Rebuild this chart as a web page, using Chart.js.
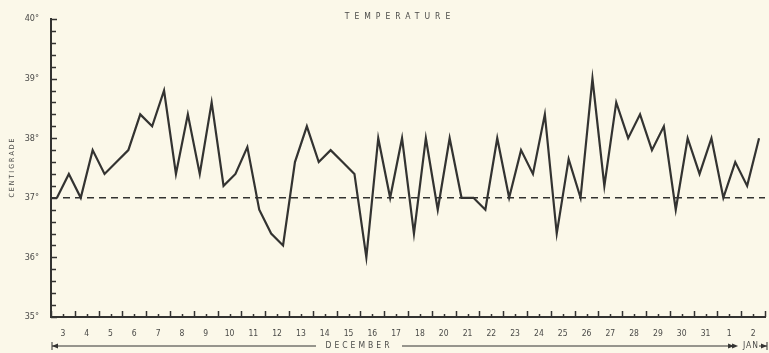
<!DOCTYPE html>
<html>
<head>
<meta charset="utf-8">
<script src="https://cdn.jsdelivr.net/npm/chart.js@4"></script>
<style>
    html, body { margin: 0; padding: 0; background: #fbf8e9; }
    #wrap { width: 769px; height: 353px; position: relative; }
</style>
</head>
<body>
<div id="wrap"><canvas id="tempChart"></canvas></div>
<script>
// day labels along the bottom (the original sheet skips 19)
const dayLabels = ['3', '4', '5', '6', '7', '8', '9', '10', '11', '12', '13', '14', '15', '16', '17', '18',
    '20', '21', '22', '23', '24', '25', '26', '27', '28', '29', '30', '31', '1', '2'];

// two readings per day, morning then evening (deg C)
const readings = [
    37.0, 37.4, 37.0, 37.8, 37.4, 37.6, 37.8, 38.4, 38.2, 38.8,
    37.4, 38.4, 37.4, 38.6, 37.2, 37.4, 37.85, 36.8, 36.4, 36.2,
    37.6, 38.2, 37.6, 37.8, 37.6, 37.4, 36.0, 38.0, 37.0, 38.0,
    36.4, 38.0, 36.8, 38.0, 37.0, 37.0, 36.8, 38.0, 37.0, 37.8,
    37.4, 38.4, 36.4, 37.65, 37.0, 39.0, 37.2, 38.6, 38.0, 38.4,
    37.8, 38.2, 36.8, 38.0, 37.4, 38.0, 37.0, 37.6, 37.2, 38.0
];

const normalTemp = 37;
const yMin = 35;
const yMax = 40;
const decemberEnd = 28.2; // end of the DECEMBER bracket on the day axis

const ink = '#333331';
const labelInk = '#4a4a48';
const fontFamily = '"DejaVu Sans Condensed", "Liberation Sans Narrow", "DejaVu Sans", sans-serif';

const points = readings.map((v, i) => ({ x: Math.floor(i / 2) + (i % 2 ? 0.25 : -0.25), y: v }));

// ticks pointing into the plot, dashed normal line and extra lettering
const chartDecor = {
    id: 'chartDecor',
    beforeDatasetsDraw(chart) {
        const { ctx, chartArea, scales: { y } } = chart;
        const py = y.getPixelForValue(normalTemp);
        ctx.save();
        ctx.strokeStyle = ink;
        ctx.lineWidth = 1.5;
        ctx.setLineDash([7, 5]);
        ctx.beginPath();
        ctx.moveTo(chartArea.left, py);
        ctx.lineTo(chartArea.right, py);
        ctx.stroke();
        ctx.restore();
    },
    afterDraw(chart) {
        const { ctx, chartArea, scales: { x, y } } = chart;
        ctx.save();
        ctx.strokeStyle = ink;
        ctx.lineWidth = 1.5;

        // y minor ticks every 0.2 deg
        for (let i = 0; i <= 25; i++) {
            const py = Math.round(y.getPixelForValue(yMin + i * 0.2)) + 0.5;
            const len = i % 5 === 0 ? 6 : 5;
            ctx.beginPath();
            ctx.moveTo(chartArea.left, py);
            ctx.lineTo(chartArea.left + len, py);
            ctx.stroke();
        }

        // x ticks every half day, long ones at day boundaries
        for (let i = 0; i <= 60; i++) {
            const v = -0.5 + i * 0.5;
            const px = Math.round(x.getPixelForValue(v)) + 0.5;
            const len = i % 2 === 0 ? 6 : 3;
            ctx.beginPath();
            ctx.moveTo(px, chartArea.bottom);
            ctx.lineTo(px, chartArea.bottom - len);
            ctx.stroke();
        }

        // title
        ctx.fillStyle = labelInk;
        ctx.font = '8.5px ' + fontFamily;
        ctx.letterSpacing = '5px';
        ctx.textAlign = 'center';
        ctx.textBaseline = 'middle';
        ctx.fillText('TEMPERATURE', 400, 17);

        // DECEMBER / JAN bracket under the axis
        const by = 346;
        const x0 = x.getPixelForValue(-0.5) + 1;
        const x1 = x.getPixelForValue(decemberEnd);
        const x2 = chart.width - 2;
        ctx.letterSpacing = '3px';
        ctx.fillText('DECEMBER', 359, by);
        ctx.letterSpacing = '1px';
        ctx.fillText('JAN', 751, by);
        ctx.lineWidth = 1;
        ctx.beginPath();
        ctx.moveTo(x0, by); ctx.lineTo(316, by);
        ctx.moveTo(402, by); ctx.lineTo(x1, by);
        ctx.moveTo(x0, by - 4); ctx.lineTo(x0, by + 4);
        ctx.moveTo(x2, by - 4); ctx.lineTo(x2, by + 4);
        ctx.moveTo(x2 - 8, by); ctx.lineTo(x2, by);
        ctx.stroke();
        ctx.fillStyle = ink;
        const arrow = (ax, dir) => {
            ctx.beginPath();
            ctx.moveTo(ax, by);
            ctx.lineTo(ax - dir * 6, by - 2.5);
            ctx.lineTo(ax - dir * 6, by + 2.5);
            ctx.closePath();
            ctx.fill();
        };
        arrow(x0, -1);
        arrow(x1, 1);
        arrow(x1 + 4, 1);
        arrow(x2, 1);
        ctx.restore();
    }
};

new Chart(document.getElementById('tempChart').getContext('2d'), {
    type: 'line',
    data: {
        datasets: [{
            label: 'Temperature',
            data: points,
            borderColor: ink,
            borderWidth: 2.2,
            pointRadius: 0,
            tension: 0,
            fill: false
        }]
    },
    options: {
        responsive: true,
        maintainAspectRatio: false,
        animation: false,
        layout: { padding: { top: 19, right: 4, left: 0, bottom: 0 } },
        plugins: {
            legend: { display: false },
            title: { display: false },
            tooltip: { enabled: false }
        },
        scales: {
            x: {
                type: 'linear',
                min: -0.5,
                max: 29.5,
                afterBuildTicks: (s) => { s.ticks = dayLabels.map((_, i) => ({ value: i })); },
                afterFit: (s) => { s.height = 36; },
                grid: { display: false },
                border: { display: true, color: ink, width: 2 },
                ticks: {
                    autoSkip: false,
                    maxRotation: 0,
                    padding: 4,
                    color: labelInk,
                    font: { family: fontFamily, size: 8.5 },
                    callback: (v) => dayLabels[v]
                }
            },
            y: {
                min: yMin,
                max: yMax,
                afterBuildTicks: (s) => {
                    const t = [];
                    for (let v = yMin; v <= yMax; v++) t.push({ value: v });
                    s.ticks = t;
                },
                afterFit: (s) => { s.width = 51; },
                grid: { display: false },
                border: { display: true, color: ink, width: 2 },
                ticks: {
                    padding: 4,
                    color: labelInk,
                    font: { family: fontFamily, size: 9 },
                    callback: (v) => v + '\u00b0'
                },
                title: {
                    display: true,
                    text: 'C E N T I G R A D E',
                    color: labelInk,
                    font: { family: fontFamily, size: 7 },
                    padding: { top: 8, bottom: 0 }
                }
            }
        }
    },
    plugins: [chartDecor]
});
</script>
</body>
</html>
